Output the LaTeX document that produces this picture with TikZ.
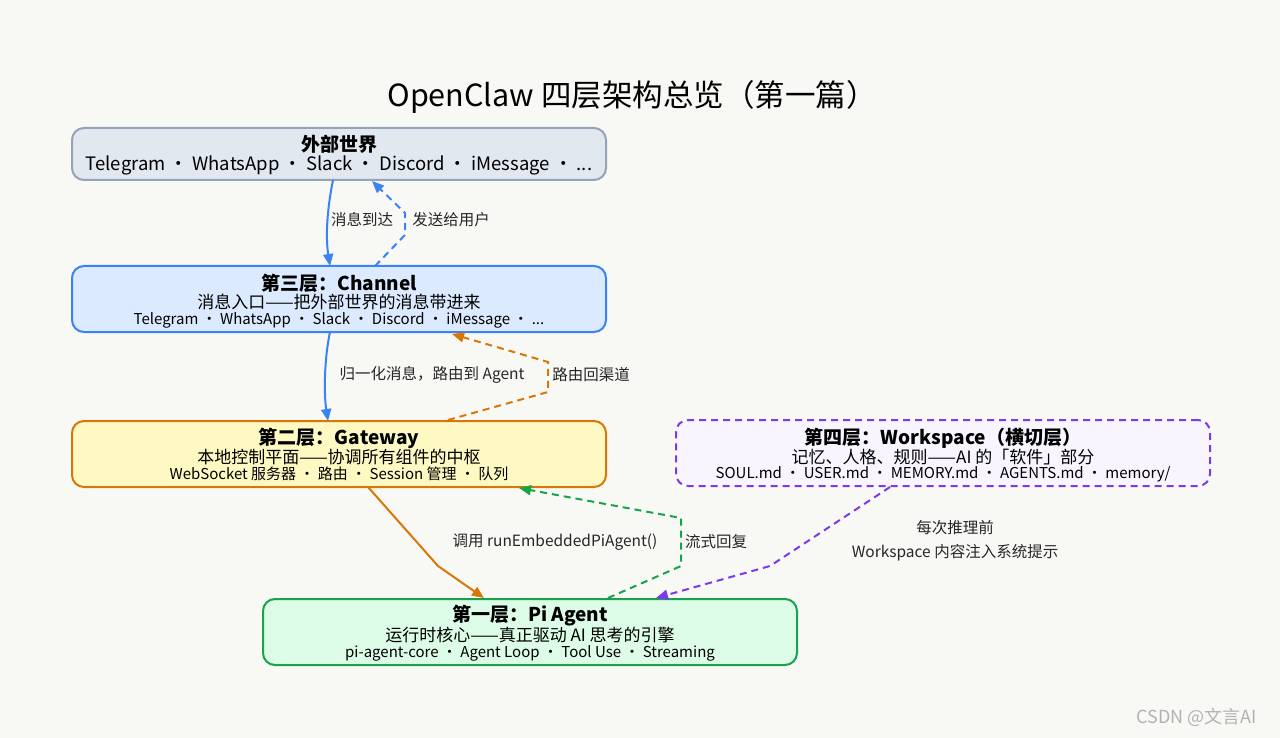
\documentclass[tikz,border=0pt]{standalone}
\usepackage{fontspec}
\setmainfont{Noto Sans CJK SC}
\usetikzlibrary{arrows.meta}
\definecolor{bg}{HTML}{F8F9F5}
\begin{document}
\begin{tikzpicture}[x=1pt,y=-1pt,
 box/.style={rounded corners=12pt,line width=2pt,minimum width=534pt,align=center,inner sep=0pt},
 t/.style={font=\fontsize{19}{21}\selectfont\bfseries},
 lab/.style={font=\fontsize{15.5}{17}\selectfont,text=black!85},
 con/.style={line width=2pt,-{Triangle[length=12pt,width=10pt]}},
 dsh/.style={dash pattern=on 7pt off 5pt}]
\fill[bg] (0,0) rectangle (1280,738);
\useasboundingbox (0,0) rectangle (1280,738);
\node (title) at (632,97) {\fontsize{30.5}{32}\selectfont OpenClaw 四层架构总览（第一篇）};
\node[box,draw={rgb,255:red,148;green,163;blue,184},fill={rgb,255:red,226;green,232;blue,240},minimum height=52pt] (ext) at (339,154) {};
\node[t] (extt) at (339,144) {外部世界};
\node[font=\fontsize{18.5}{20}\selectfont] (exts) at (339,165) {Telegram · WhatsApp · Slack · Discord · iMessage · ...};
\node[box,draw={rgb,255:red,59;green,130;blue,246},fill={rgb,255:red,219;green,234;blue,254},minimum height=66pt] (ch) at (339,299) {};
\node[t] (cht) at (339,283) {第三层：Channel};
\node[font=\fontsize{17}{19}\selectfont] (chs) at (339,302) {消息入口——把外部世界的消息带进来};
\node[font=\fontsize{15}{17}\selectfont] (chd) at (339,320) {Telegram · WhatsApp · Slack · Discord · iMessage · ...};
\node[box,draw={rgb,255:red,217;green,119;blue,6},fill={rgb,255:red,254;green,249;blue,195},minimum height=66pt] (gw) at (339,454) {};
\node[t] (gwt) at (339,438) {第二层：Gateway};
\node[font=\fontsize{17}{19}\selectfont] (gws) at (339,457) {本地控制平面——协调所有组件的中枢};
\node[font=\fontsize{15}{17}\selectfont] (gwd) at (339,474) {WebSocket 服务器 · 路由 · Session 管理 · 队列};
\node[box,dsh,draw={rgb,255:red,124;green,58;blue,237},fill={rgb,255:red,248;green,245;blue,255},minimum height=66pt] (ws) at (943,453) {};
\node[t] (wst) at (943,438) {第四层：Workspace（横切层）};
\node[font=\fontsize{17}{19}\selectfont] (wss) at (943,457) {记忆、人格、规则——AI 的「软件」部分};
\node[font=\fontsize{15}{17}\selectfont] (wsd) at (943,474) {SOUL.md · USER.md · MEMORY.md · AGENTS.md · memory/};
\node[box,draw={rgb,255:red,22;green,163;blue,74},fill={rgb,255:red,220;green,252;blue,231},minimum height=66pt] (pi) at (530,632) {};
\node[t] (pit) at (530,616) {第一层：Pi Agent};
\node[font=\fontsize{17}{19}\selectfont] (pis) at (530,635) {运行时核心——真正驱动 AI 思考的引擎};
\node[font=\fontsize{15}{17}\selectfont] (pid) at (530,653) {pi-agent-core · Agent Loop · Tool Use · Streaming};
\definecolor{cb}{HTML}{3B82F6}\definecolor{co}{HTML}{D97706}\definecolor{cg}{HTML}{16A34A}\definecolor{cp}{HTML}{7C3AED}
\draw[con,cb] (333,180) .. controls (326,215) and (326,240) .. (330,266);
\draw[con,cb,dsh] (375,266) -- (405,235) -- (405,213) -- (372,181);
\draw[con,cb] (330,332) .. controls (324,360) and (324,395) .. (328,421);
\draw[con,co,dsh] (448,420) -- (548,392) -- (548,362) -- (452,334);
\draw[con,co] (368,487) -- (438,566) -- (484,598);
\draw[con,cg,dsh] (608,598) -- (681,566) -- (681,518) -- (519,488);
\draw[con,cp,dsh] (890,487) -- (770,566) -- (656,598);
\node[lab] (l1) at (362,220) {消息到达};
\node[lab] (l2) at (451,220) {发送给用户};
\node[lab] (l3) at (432,375) {归一化消息，路由到 Agent};
\node[lab] (l4) at (591,375) {路由回渠道};
\node[lab] (l5) at (555,542) {调用 runEmbeddedPiAgent()};
\node[lab] (l6) at (716,542) {流式回复};
\node[lab] (l7) at (955,528) {每次推理前};
\node[lab] (l8) at (955,553) {Workspace 内容注入系统提示};
\node[font=\fontsize{18}{20}\selectfont,text=gray!60] (wm) at (1197,717) {CSDN @文言AI};
\end{tikzpicture}
\end{document}
